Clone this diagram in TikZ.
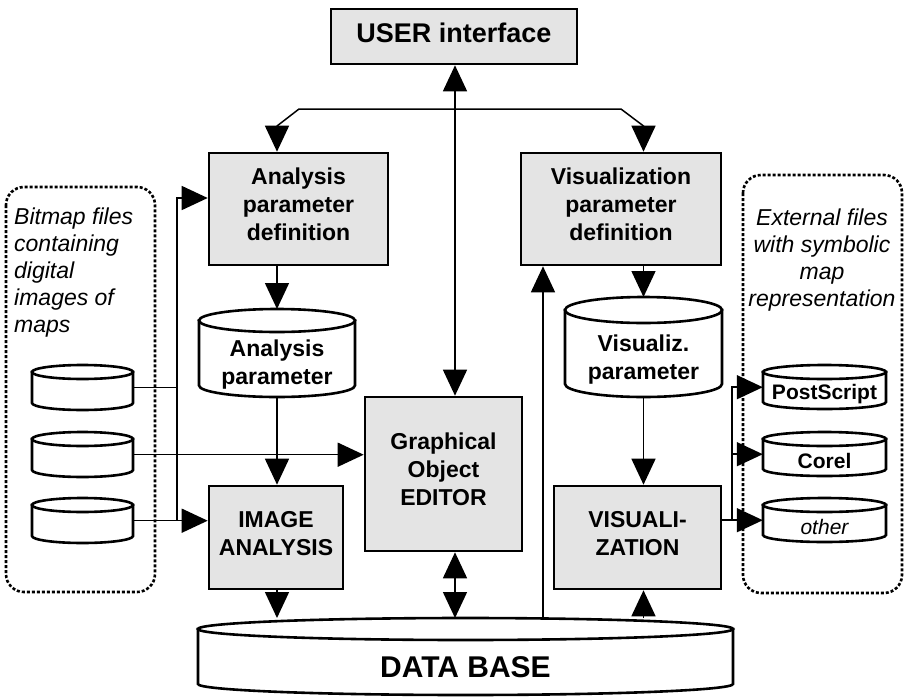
\documentclass[tikz,border=0pt]{standalone}
\usepackage{fontspec}
\setmainfont{Liberation Sans}
\usetikzlibrary{arrows.meta}
\definecolor{boxgray}{HTML}{E4E4E4}

\tikzset{
  block/.style={draw, line width=2.6pt, fill=boxgray, inner sep=0pt, align=center,
    text depth=9pt, font=\fontsize{23}{28}\selectfont\bfseries},
  link/.style={line width=1.5pt},
  tip/.style={},
  arr/.style={link, -{Triangle[length=26pt,width=24pt]}},
  darr/.style={link, {Triangle[length=26pt,width=24pt]}-{Triangle[length=26pt,width=24pt]}},
  cylshape/.style={draw, line width=2.6pt, fill=white},
  cylanchor/.style={inner sep=0pt, draw=none},
  frame/.style={line width=2.6pt, dash pattern=on 3pt off 2pt, rounded corners=18pt},
  sidetext/.style={inner sep=0pt, font=\fontsize{23}{27}\selectfont\itshape},
  cyltext/.style={inner sep=0pt, align=center},
  bigtext/.style={font=\fontsize{23}{28}\selectfont\bfseries},
  smalltext/.style={font=\fontsize{21}{24}\selectfont\bfseries},
}

% #1 name, #2 centre x, #3 top y, #4 width, #5 height, #6 rim radius, #7 text style, #8 text
\newcommand\drumnode[8]{%
  \node[cylanchor, minimum width=#4pt, minimum height=#5pt, anchor=north] (#1) at (#2,#3) {};
  \path[cylshape] ({#2-#4/2},{#3+#6}) -- ({#2-#4/2},{#3+#5-#6})
    arc[start angle=180, end angle=360, x radius={#4/2*1pt}, y radius=#6pt]
    -- ({#2+#4/2},{#3+#6}) -- cycle;
  \draw[cylshape] (#2,{#3+#6}) ellipse [x radius={#4/2*1pt}, y radius=#6pt];
  \node[cyltext, #7] (#1-t) at (#2,{(#3+2*#6+#3+#5)/2}) {#8};
}

\begin{document}
\begin{tikzpicture}[x=1pt, y=-1pt]
\useasboundingbox (0,0) rectangle (906,697);

% dotted groups of external files
\draw[frame] (6,187) rectangle (155,592);
\draw[frame] (743,175) rectangle (902,593);

\node[sidetext, align=left, anchor=north west] (lt) at (14,208)
  {Bitmap files\\containing\\digital\\images of\\maps};
\node[sidetext, align=center, anchor=north] (rt) at (822,209)
  {External files\\with symbolic\\map\\representation};

% processing blocks
\node[block, minimum width=246pt, minimum height=55pt, text depth=7pt,
      font=\fontsize{27}{32}\selectfont\bfseries] (user) at (454,36.5) {USER interface};
\node[block, minimum width=179pt, minimum height=112pt] (apd) at (298.5,209)
  {Analysis\\parameter\\definition};
\node[block, minimum width=200pt, minimum height=112pt] (vpd) at (621,209)
  {Visualization\\parameter\\definition};
\node[block, minimum width=157pt, minimum height=154pt] (editor) at (443.5,474)
  {Graphical\\Object\\EDITOR};
\node[block, minimum width=134pt, minimum height=103pt] (ia) at (276,537.5)
  {IMAGE\\ANALYSIS};
\node[block, minimum width=167pt, minimum height=103pt] (vis) at (637.5,537.5)
  {VISUALI-\\ZATION};

% data stores
\drumnode{apar}{277}{309}{156}{88}{11.5}{bigtext}{Analysis\\parameter}
\drumnode{vpar}{643.5}{297}{157}{100}{13}{bigtext}{Visualiz.\\parameter}
\drumnode{db}{465.5}{618}{535}{77}{11}{font=\fontsize{30}{34}\selectfont\bfseries}{DATA BASE}

\drumnode{bm1}{82.5}{365}{101}{45}{7}{smalltext}{}
\drumnode{bm2}{82.5}{432}{101}{45}{7}{smalltext}{}
\drumnode{bm3}{82.5}{498}{101}{45}{7}{smalltext}{}

\drumnode{ps}{824.5}{365}{123}{44}{7}{smalltext}{PostScript}
\drumnode{cor}{824.5}{432}{123}{44}{7}{smalltext}{Corel}
\drumnode{oth}{824.5}{498}{123}{44}{7}{font=\fontsize{21}{24}\selectfont\itshape}{other}

% routing points
\coordinate (xc) at (455,0);
\coordinate (xv) at (543,0);
\coordinate (lv) at (177,198);
\coordinate (rv) at (732,0);
\coordinate (kl) at (277,126);
\coordinate (kr) at (643.5,126);
\coordinate (fl) at (299,109);
\coordinate (fr) at (621,109);

% connectors
\draw[darr] (user.south -| xc) -- (editor.north -| xc);
\draw[darr] (apd.north -| kl) -- (kl) -- (fl) -- (fr) -- (kr) -- (vpd.north -| kr);

\draw[arr] (apd.south -| apar) -- (apar.north);
\draw[arr] (apar.south) -- (ia.north -| apar);
\draw[arr] (ia.south -| apar) -- (db.north -| apar);
\draw[darr] (editor.south -| xc) -- (db.north -| xc);
\draw[arr] (db.north -| xv) -- (vpd.south -| xv);
\draw[arr] (vpd.south -| vpar) -- (vpar.north);
\draw[arr] (vpar.south) -- (vis.north -| vpar);
\draw[arr] (db.north -| vpar) -- (vis.south -| vpar);

% bitmap inputs
\draw[link] (bm1.east) -- (lv |- bm1.east);
\draw[arr] (bm2.east) -- (editor.west |- bm2.east);
\draw[arr] (bm3.east) -- (ia.west |- bm3.east);
\draw[arr] (lv |- bm3.east) -- (lv) -- (apd.west |- lv);

% symbolic outputs
\draw[arr] (vis.east |- oth.west) -- (oth.west);
\draw[arr] (rv |- oth.west) |- (ps.west);
\draw[arr] (rv |- cor.west) -- (cor.west);
\end{tikzpicture}
\end{document}
